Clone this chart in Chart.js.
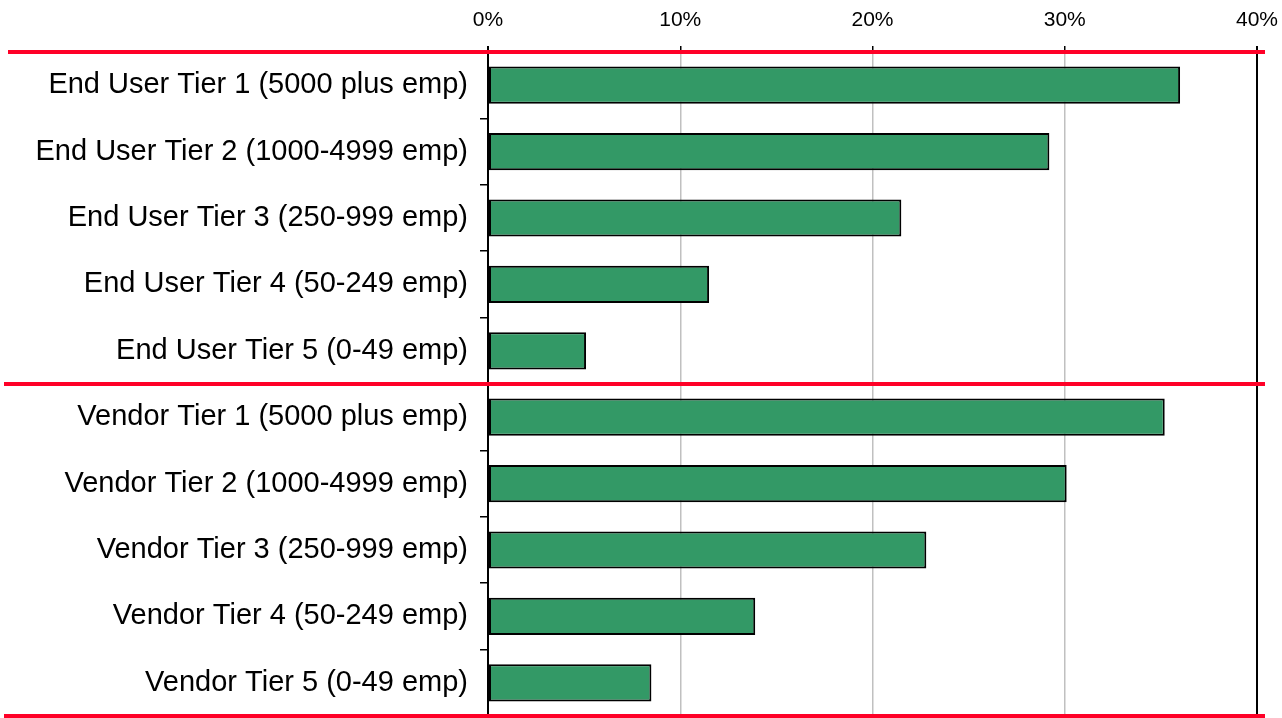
<!DOCTYPE html>
<html>
<head>
<meta charset="utf-8">
<script src="https://cdn.jsdelivr.net/npm/chart.js@4/dist/chart.umd.min.js"></script>
<style>
  html, body { margin: 0; padding: 0; background: #fff; }
  #wrap { position: absolute; left: 0; top: 0; width: 1282px; height: 718px; }
</style>
</head>
<body>
<div id="wrap"><canvas id="myChart"></canvas></div>
<script>
// categories, top to bottom
const categories = [
  'End User Tier 1 (5000 plus emp)',
  'End User Tier 2 (1000-4999 emp)',
  'End User Tier 3 (250-999 emp)',
  'End User Tier 4 (50-249 emp)',
  'End User Tier 5 (0-49 emp)',
  'Vendor Tier 1 (5000 plus emp)',
  'Vendor Tier 2 (1000-4999 emp)',
  'Vendor Tier 3 (250-999 emp)',
  'Vendor Tier 4 (50-249 emp)',
  'Vendor Tier 5 (0-49 emp)'
]
// share in percent
const shares = [36.0, 29.2, 21.5, 11.5, 5.1, 35.2, 30.1, 22.8, 13.9, 8.5]
const xTicks = [0, 10, 20, 30, 40]

const red = '#ff0027'
const font = 'Liberation Sans, Arial, sans-serif'

// red separator lines: top, between groups, bottom
const separators = {
  id: 'separators',
  afterDraw(chart) {
    const ctx = chart.ctx
    const y = chart.scales.y
    const area = chart.chartArea
    const lines = [
      [area.top, 8],
      [y.getPixelForValue(4.5), 4],
      [area.bottom, 4]
    ]
    ctx.save()
    ctx.strokeStyle = red
    ctx.lineWidth = 4
    lines.forEach(([py, x0]) => {
      ctx.beginPath()
      ctx.moveTo(x0, py)
      ctx.lineTo(area.right + 8, py)
      ctx.stroke()
    })
    ctx.restore()
  }
}

new Chart(document.getElementById('myChart'), {
  type: 'bar',
  data: {
    labels: categories,
    datasets: [{
      data: shares,
      backgroundColor: '#339966',
      borderColor: '#000',
      borderWidth: 2,
      borderSkipped: false,
      barPercentage: 0.56,
      categoryPercentage: 1
    }]
  },
  options: {
    indexAxis: 'y',
    responsive: true,
    maintainAspectRatio: false,
    animation: false,
    layout: { padding: { top: 0, left: 0, right: 25, bottom: 2 } },
    plugins: { legend: { display: false }, tooltip: { enabled: false } },
    scales: {
      x: {
        position: 'top',
        min: 0,
        max: 40,
        afterBuildTicks: (s) => { s.ticks = xTicks.map(v => ({ value: v })) },
        afterFit: (s) => { s.height = 52; s.paddingLeft = 0; s.paddingRight = 0 },
        ticks: {
          callback: (v) => v + '%',
          color: '#000',
          font: { family: font, size: 21 },
          padding: 13,
          maxRotation: 0
        },
        grid: {
          color: (c) => (c.tick && (c.tick.value === 0 || c.tick.value === 40)) ? '#000' : '#c0c0c0',
          lineWidth: (c) => (c.tick && (c.tick.value === 0 || c.tick.value === 40)) ? 2 : 1.5,
          tickLength: 6,
          tickColor: '#000'
        },
        border: { display: false }
      },
      y: {
        afterFit: (s) => { s.width = 488; s.paddingTop = 0; s.paddingBottom = 0 },
        ticks: {
          color: '#000',
          font: { family: font, size: 29 },
          padding: 12
        },
        grid: {
          offset: true,
          drawOnChartArea: false,
          tickLength: 8,
          color: '#000',
          lineWidth: 1.5
        },
        border: { display: true, color: '#000', width: 2 }
      }
    }
  },
  plugins: [separators]
})
</script>
</body>
</html>
